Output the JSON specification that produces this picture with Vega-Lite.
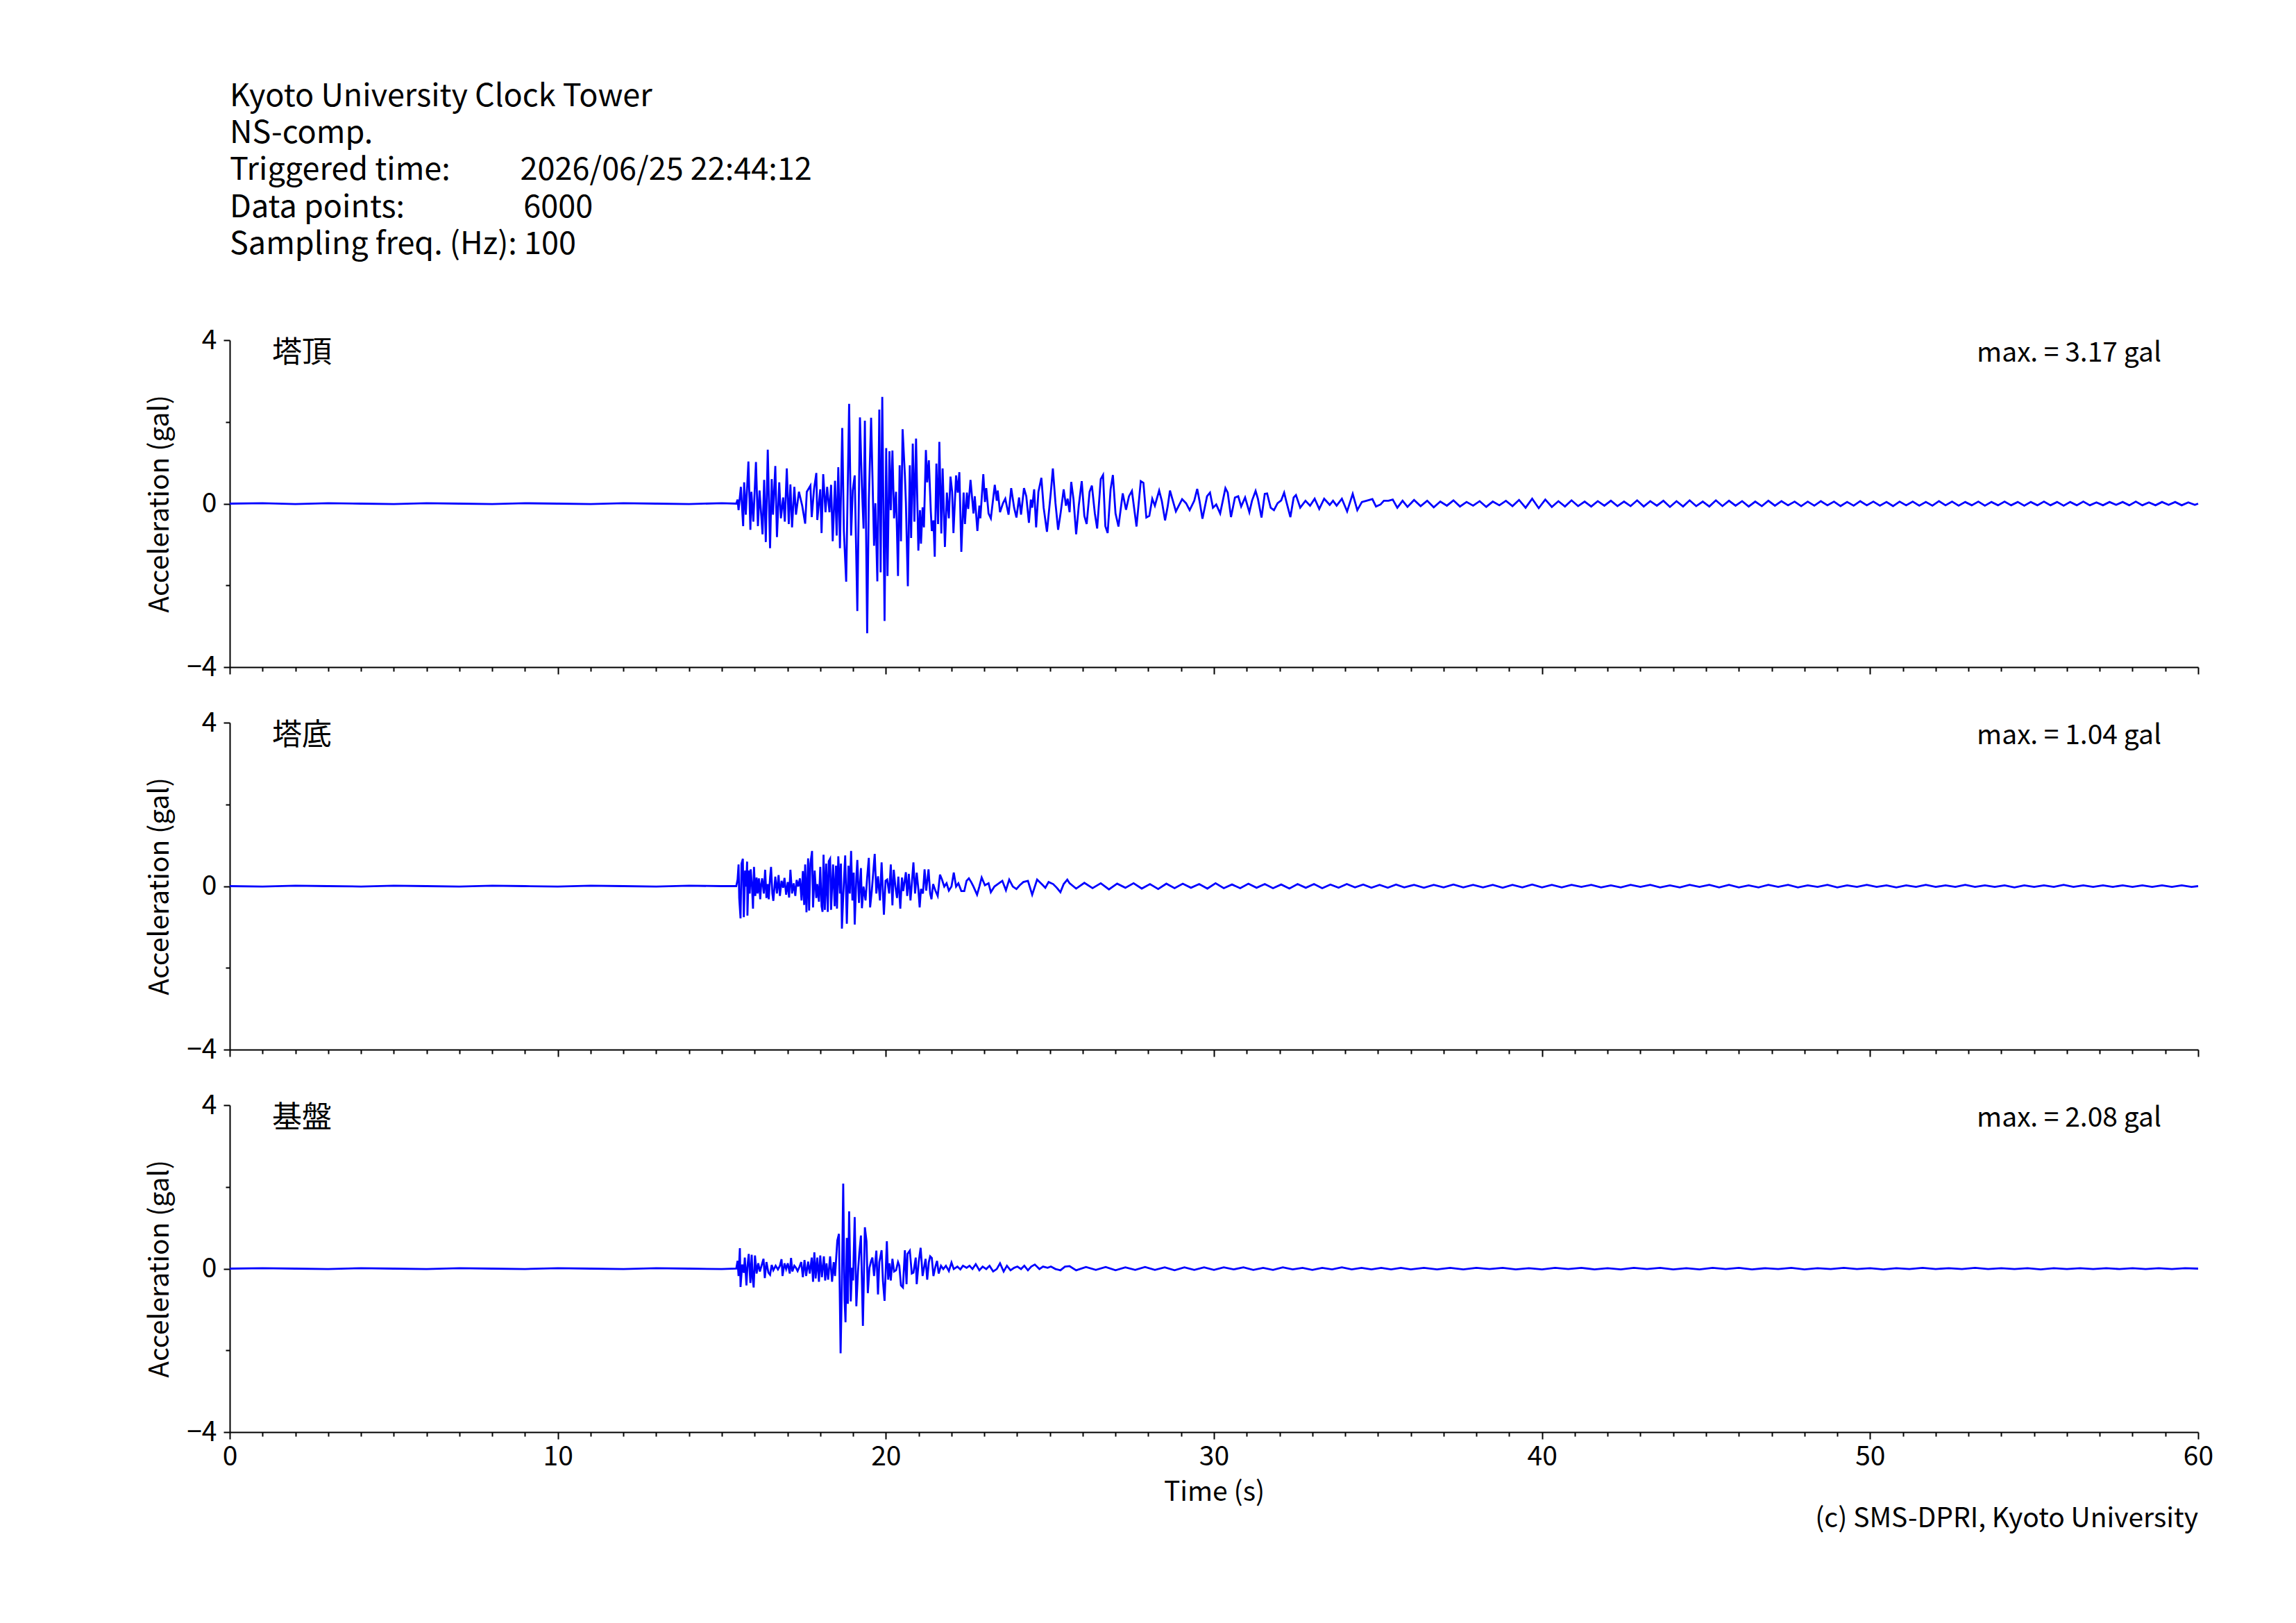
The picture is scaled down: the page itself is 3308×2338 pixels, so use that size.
{
  "$schema": "https://vega.github.io/schema/vega-lite/v6.json",
  "background": "white",
  "padding": {"left": 211, "top": 116, "right": 20, "bottom": 20},
  "config": {
    "font": "Noto Sans CJK JP",
    "view": {"stroke": null},
    "axis": {
      "grid": false,
      "domainColor": "black",
      "domainWidth": 2,
      "tickColor": "black",
      "tickWidth": 2,
      "labelColor": "black",
      "labelFontSize": 39,
      "labelFont": "Noto Sans CJK JP",
      "titleColor": "black",
      "titleFontSize": 39,
      "titleFont": "Noto Sans CJK JP",
      "titleFontWeight": "normal",
      "labelOverlap": false,
      "labelFlush": false
    },
    "line": {"color": "#0000ff", "strokeWidth": 2.8},
    "text": {"color": "black", "fontSize": 39, "font": "Noto Sans CJK JP"}
  },
  "title": {
    "text": [
      "Kyoto University Clock Tower",
      "NS-comp.",
      "Triggered time:\u00a0\u00a0\u00a0\u00a0\u00a0\u00a0\u00a0\u00a0\u00a0 2026/06/25 22:44:12",
      "Data points:\u00a0\u00a0\u00a0\u00a0\u00a0\u00a0\u00a0\u00a0\u00a0\u00a0\u00a0\u00a0\u00a0\u00a0\u00a0\u00a0 6000",
      "Sampling freq. (Hz): 100"
    ],
    "anchor": "start",
    "frame": "group",
    "fontSize": 45,
    "fontWeight": "normal",
    "font": "Noto Sans CJK JP",
    "color": "black",
    "lineHeight": 53.3,
    "offset": 96
  },
  "datasets": {
    "info": [
      {"panel": "tower_top", "name": "塔頂", "max": "max. = 3.17 gal"},
      {"panel": "tower_base", "name": "塔底", "max": "max. = 1.04 gal"},
      {"panel": "bedrock", "name": "基盤", "max": "max. = 2.08 gal"}
    ],
    "tower_top": [
      {"t":0,"a":0},{"t":1,"a":0.01},{"t":2,"a":-0.01},{"t":3,"a":0.01},{"t":4,"a":0},{"t":5,"a":-0.01},{"t":6,"a":0.01},{"t":7,"a":0},{"t":8,"a":-0.01},{"t":9,"a":0.01},{"t":10,"a":0},{"t":11,"a":-0.01},{"t":12,"a":0.01},{"t":13,"a":0},{"t":14,"a":-0.01},{"t":15,"a":0.01},{"t":15.44,"a":0},
      {"t":15.48,"a":0.10},{"t":15.51,"a":-0.16},{"t":15.58,"a":0.41},{"t":15.65,"a":-0.55},{"t":15.68,"a":0.52},{"t":15.73,"a":-0.27},{"t":15.81,"a":1.03},{"t":15.87,"a":-0.64},{"t":15.90,"a":0.29},{"t":15.96,"a":-0.44},{"t":16.04,"a":1.02},{"t":16.10,"a":-0.55},{"t":16.15,"a":0.32},{"t":16.24,"a":-0.75},{"t":16.29,"a":0.58},{"t":16.34,"a":-0.94},{"t":16.40,"a":1.32},{"t":16.47,"a":-1.09},{"t":16.52,"a":0.60},{"t":16.56,"a":-0.27},{"t":16.63,"a":0.92},{"t":16.68,"a":-0.82},{"t":16.75,"a":0.52},{"t":16.80,"a":-0.36},{"t":16.87,"a":0.15},{"t":16.92,"a":-0.44},{"t":16.98,"a":0.86},{"t":17.04,"a":-0.50},{"t":17.09,"a":0.47},{"t":17.14,"a":-0.58},{"t":17.21,"a":0.41},{"t":17.26,"a":-0.27},{"t":17.35,"a":0.29},{"t":17.45,"a":-0.05},{"t":17.54,"a":-0.49},{"t":17.59,"a":0.29},{"t":17.70,"a":0.44},{"t":17.74,"a":-0.33},{"t":17.81,"a":0.35},{"t":17.88,"a":0.75},{"t":17.91,"a":-0.40},{"t":18.00,"a":0.35},{"t":18.04,"a":-0.72},{"t":18.09,"a":0.72},{"t":18.16,"a":-0.21},{"t":18.21,"a":0.41},{"t":18.28,"a":-0.21},{"t":18.33,"a":0.46},{"t":18.38,"a":-0.92},{"t":18.45,"a":0.56},{"t":18.50,"a":-0.78},{"t":18.55,"a":0.89},{"t":18.60,"a":-1.09},{"t":18.67,"a":1.85},{"t":18.72,"a":-0.67},{"t":18.79,"a":-1.91},{"t":18.88,"a":2.44},{"t":18.94,"a":-0.78},{"t":18.99,"a":0.32},{"t":19.05,"a":0.69},{"t":19.13,"a":-2.63},{"t":19.21,"a":2.11},{"t":19.27,"a":0.41},{"t":19.32,"a":-0.61},{"t":19.36,"a":2.03},{"t":19.43,"a":-3.17},{"t":19.48,"a":0.07},{"t":19.55,"a":2.10},{"t":19.64,"a":-1.03},{"t":19.68,"a":0.01},{"t":19.74,"a":-1.90},{"t":19.80,"a":2.30},{"t":19.84,"a":-1.68},{"t":19.89,"a":2.61},{"t":19.96,"a":-2.87},{"t":20.01,"a":1.36},{"t":20.05,"a":-1.77},{"t":20.11,"a":1.28},{"t":20.15,"a":-0.16},{"t":20.20,"a":1.30},{"t":20.25,"a":-0.36},{"t":20.31,"a":0.29},{"t":20.37,"a":-1.77},{"t":20.42,"a":0.94},{"t":20.46,"a":-0.92},{"t":20.51,"a":1.82},{"t":20.58,"a":0.69},{"t":20.61,"a":0.04},{"t":20.67,"a":-2.02},{"t":20.73,"a":0.94},{"t":20.77,"a":-0.84},{"t":20.82,"a":1.47},{"t":20.87,"a":-0.44},{"t":20.92,"a":1.59},{"t":20.99,"a":-1.15},{"t":21.04,"a":-0.16},{"t":21.07,"a":-0.98},{"t":21.12,"a":-0.09},{"t":21.16,"a":-0.58},{"t":21.22,"a":1.31},{"t":21.26,"a":0.52},{"t":21.31,"a":1.06},{"t":21.37,"a":-0.19},{"t":21.40,"a":-0.67},{"t":21.45,"a":-0.41},{"t":21.49,"a":-1.30},{"t":21.54,"a":0.98},{"t":21.59,"a":-0.50},{"t":21.63,"a":1.51},{"t":21.69,"a":-0.73},{"t":21.73,"a":0.86},{"t":21.80,"a":-1.06},{"t":21.86,"a":0.27},{"t":21.92,"a":-0.36},{"t":21.97,"a":0.66},{"t":22.02,"a":0.29},{"t":22.06,"a":-0.72},{"t":22.14,"a":0.69},{"t":22.19,"a":0.27},{"t":22.24,"a":0.77},{"t":22.30,"a":-1.18},{"t":22.37,"a":0.27},{"t":22.41,"a":-0.50},{"t":22.47,"a":0.27},{"t":22.51,"a":-0.13},{"t":22.58,"a":0.58},{"t":22.67,"a":-0.24},{"t":22.71,"a":0.18},{"t":22.79,"a":-0.67},{"t":22.85,"a":-0.05},{"t":22.88,"a":-0.36},{"t":22.97,"a":0.72},{"t":23.02,"a":0.04},{"t":23.06,"a":0.38},{"t":23.13,"a":-0.24},{"t":23.20,"a":-0.36},{"t":23.32,"a":0.46},{"t":23.38,"a":0.07},{"t":23.41,"a":0.32},{"t":23.48,"a":-0.21},{"t":23.57,"a":0.01},{"t":23.64,"a":0.12},{"t":23.74,"a":-0.27},{"t":23.82,"a":0.38},{"t":23.91,"a":-0.10},{"t":23.98,"a":-0.34},{"t":24.06,"a":0.15},{"t":24.12,"a":-0.27},{"t":24.21,"a":0.38},{"t":24.28,"a":0.18},{"t":24.36,"a":-0.47},{"t":24.42,"a":0.10},{"t":24.46,"a":-0.10},{"t":24.52,"a":0.35},{"t":24.58,"a":-0.58},{"t":24.65,"a":0.29},{"t":24.74,"a":0.63},{"t":24.81,"a":-0.10},{"t":24.91,"a":-0.69},{"t":25.03,"a":0.29},{"t":25.09,"a":0.86},{"t":25.17,"a":0.01},{"t":25.25,"a":-0.64},{"t":25.33,"a":-0.21},{"t":25.42,"a":0.35},{"t":25.49,"a":-0.05},{"t":25.54,"a":0.12},{"t":25.60,"a":-0.21},
      {"t":25.65,"a":0.53},{"t":25.72,"a":0.10},{"t":25.80,"a":-0.75},{"t":25.88,"a":-0.05},{"t":25.97,"a":0.55},{"t":26.05,"a":-0.30},{"t":26.12,"a":-0.50},{"t":26.21,"a":0.29},{"t":26.28,"a":0.44},{"t":26.37,"a":-0.24},{"t":26.44,"a":-0.61},{"t":26.55,"a":0.60},{"t":26.62,"a":0.70},{"t":26.69,"a":-0.55},{"t":26.76,"a":-0.72},{"t":26.85,"a":0.35},{"t":26.92,"a":0.70},{"t":27.00,"a":-0.24},{"t":27.09,"a":-0.56},{"t":27.22,"a":0.25},{"t":27.32,"a":-0.15},{"t":27.41,"a":0.18},{"t":27.50,"a":0.31},{"t":27.64,"a":-0.56},{"t":27.77,"a":0.55},{"t":27.85,"a":0.51},{"t":27.94,"a":-0.34},{"t":28.03,"a":-0.30},{"t":28.12,"a":0.12},{"t":28.20,"a":-0.05},{"t":28.33,"a":0.32},{"t":28.41,"a":0.07},{"t":28.51,"a":-0.41},{"t":28.59,"a":-0.07},{"t":28.66,"a":0.32},{"t":28.73,"a":0.12},{"t":28.84,"a":-0.19},{"t":29.03,"a":0.11},{"t":29.15,"a":0.01},{"t":29.26,"a":-0.16},{"t":29.40,"a":0.07},{"t":29.49,"a":0.36},{"t":29.56,"a":0.07},{"t":29.65,"a":-0.37},{"t":29.79,"a":0.18},{"t":29.88,"a":0.27},{"t":29.97,"a":-0.10},{"t":30.07,"a":-0.02},{"t":30.19,"a":-0.24},{"t":30.35,"a":0.38},{"t":30.42,"a":0.27},{"t":30.52,"a":-0.33},{"t":30.64,"a":0.15},{"t":30.74,"a":0.18},{"t":30.83,"a":-0.07},{"t":30.95,"a":0.15},{"t":31.08,"a":-0.21},{"t":31.16,"a":0.07},{"t":31.27,"a":0.31},{"t":31.34,"a":0.12},{"t":31.45,"a":-0.34},{"t":31.55,"a":0.24},{"t":31.62,"a":0.25},{"t":31.73,"a":-0.10},{"t":31.83,"a":-0.16},{"t":31.94,"a":0.01},{"t":32.05,"a":0.08},{"t":32.14,"a":0.27},{"t":32.22,"a":0.01},{"t":32.33,"a":-0.33},{"t":32.43,"a":0.15},{"t":32.50,"a":0.21},{"t":32.63,"a":-0.10},{"t":32.79,"a":0.07},{"t":32.93,"a":-0.05},{"t":33.07,"a":0.12},{"t":33.21,"a":-0.13},{"t":33.36,"a":0.12},{"t":33.53,"a":-0.03},{"t":33.63,"a":0.07},{"t":33.74,"a":-0.05},{"t":33.90,"a":0.12},{"t":34.06,"a":-0.19},{"t":34.23,"a":0.24},{"t":34.37,"a":-0.16},{"t":34.51,"a":0.04},{"t":34.65,"a":0.07},{"t":34.83,"a":0.11},{"t":34.94,"a":-0.07},{"t":35.08,"a":-0.02},{"t":35.18,"a":0.07},{"t":35.32,"a":0.07},{"t":35.45,"a":0.10},{"t":35.59,"a":-0.10},{"t":35.75,"a":0.07},
      {"t":35.9,"a":-0.08},{"t":36.1,"a":0.09},{"t":36.3,"a":-0.06},{"t":36.5,"a":0.07},{"t":36.7,"a":-0.09},{"t":36.9,"a":0.05},{"t":37.1,"a":-0.05},{"t":37.3,"a":0.08},{"t":37.5,"a":-0.07},{"t":37.7,"a":0.04},{"t":37.9,"a":-0.05},{"t":38.1,"a":0.06},{"t":38.3,"a":-0.08},{"t":38.5,"a":0.05},{"t":38.7,"a":-0.04},{"t":38.9,"a":0.07},{"t":39.1,"a":-0.06},{"t":39.3,"a":0.09},{"t":39.5,"a":-0.10},{"t":39.7,"a":0.12},{"t":39.9,"a":-0.11},{"t":40.1,"a":0.10},{"t":40.3,"a":-0.08},{"t":40.5,"a":0.06},{"t":40.7,"a":-0.07},{"t":40.9,"a":0.08},{"t":41.1,"a":-0.06},{"t":41.3,"a":0.05},{"t":41.5,"a":-0.07},{"t":41.7,"a":0.06},{"t":41.9,"a":-0.05},{"t":42.1,"a":0.07},{"t":42.3,"a":-0.06},{"t":42.5,"a":0.05},{"t":42.7,"a":-0.06},{"t":42.9,"a":0.08},{"t":43.1,"a":-0.07},{"t":43.3,"a":0.06},{"t":43.5,"a":-0.05},{"t":43.7,"a":0.07},{"t":43.9,"a":-0.08},{"t":44.1,"a":0.06},{"t":44.3,"a":-0.07},{"t":44.5,"a":0.08},{"t":44.7,"a":-0.06},{"t":44.9,"a":0.05},{"t":45.1,"a":-0.07},{"t":45.3,"a":0.08},{"t":45.5,"a":-0.06},{"t":45.7,"a":0.07},{"t":45.9,"a":-0.05},{"t":46.1,"a":0.06},{"t":46.3,"a":-0.07},{"t":46.5,"a":0.05},{"t":46.7,"a":-0.06},{"t":46.9,"a":0.07},{"t":47.1,"a":-0.05},{"t":47.3,"a":0.06},{"t":47.5,"a":-0.04},{"t":47.7,"a":0.05},{"t":47.9,"a":-0.06},{"t":48.1,"a":0.05},{"t":48.3,"a":-0.05},{"t":48.5,"a":0.06},{"t":48.7,"a":-0.04},{"t":48.9,"a":0.05},{"t":49.1,"a":-0.06},{"t":49.3,"a":0.04},{"t":49.5,"a":-0.05},{"t":49.7,"a":0.06},{"t":49.9,"a":-0.04},{"t":50.1,"a":0.05},{"t":50.3,"a":-0.05},{"t":50.5,"a":0.04},{"t":50.7,"a":-0.06},{"t":50.9,"a":0.05},{"t":51.1,"a":-0.04},{"t":51.3,"a":0.05},{"t":51.5,"a":-0.05},{"t":51.7,"a":0.04},{"t":51.9,"a":-0.05},{"t":52.1,"a":0.06},{"t":52.3,"a":-0.04},{"t":52.5,"a":0.05},{"t":52.7,"a":-0.05},{"t":52.9,"a":0.04},{"t":53.1,"a":-0.04},{"t":53.3,"a":0.05},{"t":53.5,"a":-0.05},{"t":53.7,"a":0.04},{"t":53.9,"a":-0.04},{"t":54.1,"a":0.05},{"t":54.3,"a":-0.04},{"t":54.5,"a":0.04},{"t":54.7,"a":-0.05},{"t":54.9,"a":0.04},{"t":55.1,"a":-0.04},{"t":55.3,"a":0.05},{"t":55.5,"a":-0.04},{"t":55.7,"a":0.04},{"t":55.9,"a":-0.05},{"t":56.1,"a":0.04},{"t":56.3,"a":-0.04},{"t":56.5,"a":0.05},{"t":56.7,"a":-0.04},{"t":56.9,"a":0.03},{"t":57.1,"a":-0.04},{"t":57.3,"a":0.04},{"t":57.5,"a":-0.03},{"t":57.7,"a":0.04},{"t":57.9,"a":-0.04},{"t":58.1,"a":0.05},{"t":58.3,"a":-0.04},{"t":58.5,"a":0.03},{"t":58.7,"a":-0.04},{"t":58.9,"a":0.04},{"t":59.1,"a":-0.03},{"t":59.3,"a":0.04},{"t":59.5,"a":-0.04},{"t":59.7,"a":0.03},{"t":59.9,"a":-0.03},{"t":60,"a":0}
    ],
    "tower_base": [
      {"t":0,"a":0},{"t":1,"a":-0.01},{"t":2,"a":0.01},{"t":3,"a":0},{"t":4,"a":-0.01},{"t":5,"a":0.01},{"t":6,"a":0},{"t":7,"a":-0.01},{"t":8,"a":0.01},{"t":9,"a":0},{"t":10,"a":-0.01},{"t":11,"a":0.01},{"t":12,"a":0},{"t":13,"a":-0.01},{"t":14,"a":0.01},{"t":15,"a":0},{"t":15.44,"a":0},
      {"t":15.48,"a":0.16},{"t":15.51,"a":0.53},{"t":15.53,"a":-0.29},{"t":15.57,"a":-0.79},{"t":15.60,"a":0.55},{"t":15.64,"a":0.67},{"t":15.67,"a":-0.76},{"t":15.71,"a":0.38},{"t":15.74,"a":-0.01},{"t":15.77,"a":0.60},{"t":15.78,"a":-0.72},{"t":15.82,"a":0.38},{"t":15.85,"a":-0.18},{"t":15.88,"a":0.41},{"t":15.92,"a":-0.01},{"t":15.95,"a":-0.55},{"t":15.98,"a":0.47},{"t":16.02,"a":-0.24},{"t":16.06,"a":0.21},{"t":16.09,"a":-0.18},{"t":16.13,"a":0.19},{"t":16.17,"a":-0.32},{"t":16.20,"a":0.05},{"t":16.23,"a":0.19},{"t":16.28,"a":-0.18},{"t":16.32,"a":0.40},{"t":16.36,"a":-0.29},{"t":16.40,"a":0.05},{"t":16.43,"a":-0.32},{"t":16.47,"a":0.21},{"t":16.50,"a":0.47},{"t":16.54,"a":-0.18},{"t":16.57,"a":-0.36},{"t":16.63,"a":0.23},{"t":16.68,"a":-0.18},{"t":16.73,"a":0.27},{"t":16.77,"a":-0.24},{"t":16.82,"a":0.13},{"t":16.87,"a":-0.04},{"t":16.91,"a":0.20},{"t":16.96,"a":-0.21},{"t":17.01,"a":0.10},{"t":17.05,"a":-0.28},{"t":17.09,"a":0.40},{"t":17.14,"a":-0.18},{"t":17.19,"a":0.07},{"t":17.24,"a":-0.24},{"t":17.28,"a":0.15},{"t":17.33,"a":-0.01},{"t":17.38,"a":0.19},{"t":17.43,"a":-0.35},{"t":17.47,"a":0.37},{"t":17.51,"a":-0.46},{"t":17.54,"a":0.53},{"t":17.58,"a":-0.64},{"t":17.63,"a":0.68},{"t":17.66,"a":-0.60},{"t":17.70,"a":0.55},{"t":17.75,"a":0.86},{"t":17.78,"a":-0.52},{"t":17.83,"a":0.38},{"t":17.88,"a":-0.29},{"t":17.91,"a":0.05},{"t":17.96,"a":-0.38},{"t":18.00,"a":0.47},{"t":18.04,"a":-0.49},{"t":18.07,"a":-0.63},{"t":18.10,"a":0.77},{"t":18.14,"a":-0.58},{"t":18.18,"a":0.55},{"t":18.23,"a":-0.63},{"t":18.26,"a":0.61},{"t":18.30,"a":0.67},{"t":18.33,"a":-0.58},{"t":18.39,"a":0.53},{"t":18.44,"a":-0.49},{"t":18.48,"a":0.50},{"t":18.51,"a":-0.55},{"t":18.55,"a":0.73},{"t":18.60,"a":-0.18},{"t":18.63,"a":0.55},{"t":18.66,"a":-1.04},{"t":18.70,"a":-0.24},{"t":18.76,"a":0.75},{"t":18.81,"a":-0.92},{"t":18.86,"a":0.50},{"t":18.90,"a":-0.18},{"t":18.94,"a":0.86},{"t":18.98,"a":-0.35},{"t":19.02,"a":0.33},{"t":19.05,"a":-0.94},{"t":19.10,"a":0.21},{"t":19.13,"a":0.64},{"t":19.18,"a":-0.41},{"t":19.24,"a":0.44},{"t":19.27,"a":-0.54},{"t":19.32,"a":-0.01},{"t":19.38,"a":-0.35},{"t":19.43,"a":0.21},{"t":19.48,"a":0.69},{"t":19.52,"a":-0.52},{"t":19.57,"a":-0.12},{"t":19.62,"a":0.38},{"t":19.66,"a":0.79},{"t":19.71,"a":-0.18},{"t":19.76,"a":0.24},{"t":19.82,"a":-0.35},{"t":19.87,"a":0.58},{"t":19.94,"a":-0.70},{"t":19.99,"a":0.13},{"t":20.04,"a":0.16},{"t":20.10,"a":-0.18},{"t":20.15,"a":0.53},{"t":20.20,"a":-0.47},{"t":20.24,"a":0.40},{"t":20.29,"a":-0.01},{"t":20.34,"a":-0.29},{"t":20.38,"a":0.23},{"t":20.44,"a":-0.55},{"t":20.49,"a":0.21},{"t":20.53,"a":-0.12},{"t":20.61,"a":0.34},{"t":20.65,"a":-0.24},{"t":20.70,"a":0.30},{"t":20.75,"a":-0.35},{"t":20.79,"a":0.05},{"t":20.84,"a":0.58},{"t":20.89,"a":-0.18},{"t":20.94,"a":0.33},{"t":20.99,"a":-0.07},{"t":21.03,"a":-0.52},{"t":21.07,"a":-0.07},{"t":21.13,"a":-0.18},{"t":21.18,"a":0.41},{"t":21.23,"a":-0.11},{"t":21.30,"a":0.41},{"t":21.35,"a":-0.18},{"t":21.39,"a":-0.32},{"t":21.44,"a":0.05},{"t":21.51,"a":-0.11},{"t":21.58,"a":-0.24},{"t":21.65,"a":0.28},{"t":21.71,"a":0.16},{"t":21.78,"a":-0.01},{"t":21.85,"a":0.07},{"t":21.92,"a":-0.11},{"t":22.00,"a":-0.01},{"t":22.07,"a":0.33},{"t":22.14,"a":-0.01},{"t":22.21,"a":0.07},{"t":22.30,"a":-0.12},{"t":22.39,"a":-0.12},{"t":22.46,"a":0.13},{"t":22.53,"a":0.19},{"t":22.60,"a":0.10},{"t":22.67,"a":-0.01},{"t":22.78,"a":-0.21},{"t":22.85,"a":-0.01},{"t":22.92,"a":0.21},{"t":23.02,"a":0.02},{"t":23.13,"a":0.07},{"t":23.20,"a":-0.15},{"t":23.31,"a":-0.01},{"t":23.41,"a":0.05},{"t":23.55,"a":0.13},{"t":23.66,"a":-0.10},{"t":23.76,"a":0.16},{"t":23.87,"a":-0.01},{"t":23.98,"a":-0.07},{"t":24.08,"a":0.02},{"t":24.19,"a":0.10},{"t":24.33,"a":0.13},{"t":24.46,"a":-0.21},{"t":24.61,"a":0.16},{"t":24.75,"a":0.05},{"t":24.86,"a":-0.04},{"t":24.96,"a":0.10},{"t":25.10,"a":0.05},{"t":25.21,"a":-0.04},{"t":25.32,"a":-0.15},{"t":25.42,"a":0.05},{"t":25.53,"a":0.16},{"t":25.60,"a":0.07},
      {"t":25.8,"a":-0.06},{"t":26.05,"a":0.08},{"t":26.3,"a":-0.05},{"t":26.55,"a":0.07},{"t":26.8,"a":-0.08},{"t":27.05,"a":0.06},{"t":27.3,"a":-0.04},{"t":27.55,"a":0.07},{"t":27.8,"a":-0.06},{"t":28.05,"a":0.05},{"t":28.3,"a":-0.07},{"t":28.55,"a":0.06},{"t":28.8,"a":-0.05},{"t":29.05,"a":0.06},{"t":29.3,"a":-0.04},{"t":29.55,"a":0.05},{"t":29.8,"a":-0.06},{"t":30.05,"a":0.07},{"t":30.3,"a":-0.05},{"t":30.55,"a":0.04},{"t":30.8,"a":-0.05},{"t":31.05,"a":0.06},{"t":31.3,"a":-0.04},{"t":31.55,"a":0.05},{"t":31.8,"a":-0.05},{"t":32.05,"a":0.04},{"t":32.3,"a":-0.06},{"t":32.55,"a":0.05},{"t":32.8,"a":-0.04},{"t":33.05,"a":0.05},{"t":33.3,"a":-0.05},{"t":33.55,"a":0.04},{"t":33.8,"a":-0.04},{"t":34.05,"a":0.05},{"t":34.3,"a":-0.03},{"t":34.55,"a":0.04},{"t":34.8,"a":-0.04},{"t":35.05,"a":0.03},{"t":35.3,"a":-0.04},{"t":35.55,"a":0.04},{"t":35.8,"a":-0.03},{"t":36.1,"a":0.03},{"t":36.4,"a":-0.04},{"t":36.7,"a":0.03},{"t":37.0,"a":-0.03},{"t":37.3,"a":0.04},{"t":37.6,"a":-0.03},{"t":37.9,"a":0.03},{"t":38.2,"a":-0.03},{"t":38.5,"a":0.03},{"t":38.8,"a":-0.04},{"t":39.1,"a":0.03},{"t":39.4,"a":-0.03},{"t":39.7,"a":0.04},{"t":40.0,"a":-0.03},{"t":40.3,"a":0.03},{"t":40.6,"a":-0.03},{"t":40.9,"a":0.03},{"t":41.2,"a":-0.02},{"t":41.5,"a":0.03},{"t":41.8,"a":-0.03},{"t":42.1,"a":0.02},{"t":42.4,"a":-0.03},{"t":42.7,"a":0.03},{"t":43.0,"a":-0.02},{"t":43.3,"a":0.03},{"t":43.6,"a":-0.03},{"t":43.9,"a":0.02},{"t":44.2,"a":-0.03},{"t":44.5,"a":0.03},{"t":44.8,"a":-0.02},{"t":45.1,"a":0.03},{"t":45.4,"a":-0.03},{"t":45.7,"a":0.03},{"t":46.0,"a":-0.03},{"t":46.3,"a":0.02},{"t":46.6,"a":-0.03},{"t":46.9,"a":0.03},{"t":47.2,"a":-0.02},{"t":47.5,"a":0.03},{"t":47.8,"a":-0.03},{"t":48.1,"a":0.02},{"t":48.4,"a":-0.02},{"t":48.7,"a":0.03},{"t":49.0,"a":-0.03},{"t":49.3,"a":0.02},{"t":49.6,"a":-0.02},{"t":49.9,"a":0.03},{"t":50.2,"a":-0.02},{"t":50.5,"a":0.02},{"t":50.8,"a":-0.03},{"t":51.1,"a":0.02},{"t":51.4,"a":-0.02},{"t":51.7,"a":0.03},{"t":52.0,"a":-0.02},{"t":52.3,"a":0.02},{"t":52.6,"a":-0.02},{"t":52.9,"a":0.03},{"t":53.2,"a":-0.02},{"t":53.5,"a":0.02},{"t":53.8,"a":-0.02},{"t":54.1,"a":0.02},{"t":54.4,"a":-0.03},{"t":54.7,"a":0.02},{"t":55.0,"a":-0.02},{"t":55.3,"a":0.02},{"t":55.6,"a":-0.02},{"t":55.9,"a":0.03},{"t":56.2,"a":-0.02},{"t":56.5,"a":0.02},{"t":56.8,"a":-0.02},{"t":57.1,"a":0.02},{"t":57.4,"a":-0.02},{"t":57.7,"a":0.02},{"t":58.0,"a":-0.02},{"t":58.3,"a":0.02},{"t":58.6,"a":-0.02},{"t":58.9,"a":0.02},{"t":59.2,"a":-0.02},{"t":59.5,"a":0.02},{"t":59.8,"a":-0.02},{"t":60,"a":0}
    ],
    "bedrock": [
      {"t":0,"a":0},{"t":1,"a":0.01},{"t":2,"a":0},{"t":3,"a":-0.01},{"t":4,"a":0.01},{"t":5,"a":0},{"t":6,"a":-0.01},{"t":7,"a":0.01},{"t":8,"a":0},{"t":9,"a":-0.01},{"t":10,"a":0.01},{"t":11,"a":0},{"t":12,"a":-0.01},{"t":13,"a":0.01},{"t":14,"a":0},{"t":15,"a":-0.01},{"t":15.44,"a":0},
      {"t":15.48,"a":0.19},{"t":15.51,"a":-0.18},{"t":15.55,"a":0.50},{"t":15.57,"a":-0.45},{"t":15.62,"a":0.10},{"t":15.67,"a":-0.10},{"t":15.70,"a":0.27},{"t":15.75,"a":-0.41},{"t":15.78,"a":0.05},{"t":15.82,"a":0.36},{"t":15.87,"a":-0.35},{"t":15.91,"a":0.34},{"t":15.94,"a":-0.24},{"t":15.97,"a":-0.46},{"t":16.01,"a":0.32},{"t":16.06,"a":-0.12},{"t":16.11,"a":0.13},{"t":16.16,"a":-0.07},{"t":16.22,"a":0.10},{"t":16.27,"a":0.24},{"t":16.31,"a":-0.23},{"t":16.36,"a":0.16},{"t":16.42,"a":-0.10},{"t":16.47,"a":-0.15},{"t":16.52,"a":0.09},{"t":16.57,"a":-0.04},{"t":16.64,"a":0.07},{"t":16.71,"a":-0.02},{"t":16.77,"a":0.07},{"t":16.82,"a":0.23},{"t":16.85,"a":-0.18},{"t":16.91,"a":0.13},{"t":16.96,"a":-0.01},{"t":17.01,"a":0.13},{"t":17.07,"a":-0.12},{"t":17.11,"a":0.26},{"t":17.15,"a":-0.07},{"t":17.21,"a":0.07},{"t":17.26,"a":0.02},{"t":17.31,"a":-0.06},{"t":17.37,"a":0.05},{"t":17.42,"a":0.16},{"t":17.47,"a":-0.21},{"t":17.52,"a":0.21},{"t":17.57,"a":-0.18},{"t":17.63,"a":0.17},{"t":17.68,"a":-0.12},{"t":17.74,"a":0.27},{"t":17.78,"a":-0.32},{"t":17.82,"a":0.40},{"t":17.86,"a":-0.24},{"t":17.91,"a":0.27},{"t":17.96,"a":-0.32},{"t":18.00,"a":0.32},{"t":18.05,"a":-0.21},{"t":18.11,"a":0.30},{"t":18.15,"a":-0.29},{"t":18.19,"a":0.13},{"t":18.24,"a":-0.27},{"t":18.30,"a":0.30},{"t":18.36,"a":-0.32},{"t":18.41,"a":0.16},{"t":18.45,"a":-0.18},{"t":18.48,"a":0.19},{"t":18.52,"a":0.69},{"t":18.57,"a":0.85},{"t":18.62,"a":-2.07},{"t":18.66,"a":-0.35},{"t":18.70,"a":2.08},{"t":18.74,"a":-0.75},{"t":18.77,"a":-1.31},{"t":18.81,"a":0.75},{"t":18.84,"a":-0.86},{"t":18.88,"a":1.40},{"t":18.93,"a":-0.80},{"t":18.97,"a":0.02},{"t":19.00,"a":-0.29},{"t":19.05,"a":1.26},{"t":19.10,"a":-0.92},{"t":19.15,"a":-0.07},{"t":19.19,"a":0.38},{"t":19.24,"a":0.81},{"t":19.30,"a":-1.40},{"t":19.36,"a":1.01},{"t":19.41,"a":0.67},{"t":19.45,"a":-0.60},{"t":19.50,"a":0.02},{"t":19.55,"a":0.19},{"t":19.59,"a":0.27},{"t":19.64,"a":-0.18},{"t":19.71,"a":0.44},{"t":19.76,"a":-0.63},{"t":19.80,"a":0.16},{"t":19.87,"a":0.45},{"t":19.91,"a":-0.29},{"t":19.96,"a":-0.79},{"t":20.03,"a":0.67},{"t":20.07,"a":-0.27},{"t":20.11,"a":0.13},{"t":20.15,"a":-0.29},{"t":20.20,"a":0.24},{"t":20.25,"a":-0.07},{"t":20.31,"a":-0.04},{"t":20.37,"a":0.16},{"t":20.41,"a":0.07},{"t":20.46,"a":-0.41},{"t":20.52,"a":-0.46},{"t":20.58,"a":0.45},{"t":20.63,"a":-0.38},{"t":20.66,"a":0.36},{"t":20.73,"a":0.44},{"t":20.79,"a":-0.12},{"t":20.84,"a":-0.10},{"t":20.91,"a":0.27},{"t":20.94,"a":-0.38},{"t":21.00,"a":0.16},{"t":21.06,"a":0.51},{"t":21.12,"a":-0.18},{"t":21.17,"a":0.05},{"t":21.21,"a":0.24},{"t":21.26,"a":-0.27},{"t":21.31,"a":0.16},{"t":21.35,"a":0.30},{"t":21.40,"a":0.26},{"t":21.45,"a":-0.18},{"t":21.51,"a":0.05},{"t":21.56,"a":0.19},{"t":21.61,"a":-0.12},{"t":21.68,"a":0.07},{"t":21.75,"a":-0.01},{"t":21.83,"a":0.07},{"t":21.92,"a":-0.06},{"t":22.00,"a":0.15},{"t":22.07,"a":-0.01},{"t":22.18,"a":0.05},{"t":22.27,"a":-0.02},{"t":22.35,"a":0.07},{"t":22.46,"a":0.02},{"t":22.55,"a":0.07},{"t":22.64,"a":-0.01},{"t":22.74,"a":0.11},{"t":22.85,"a":-0.04},{"t":22.95,"a":0.05},{"t":23.06,"a":-0.01},{"t":23.16,"a":0.07},{"t":23.27,"a":-0.07},{"t":23.38,"a":-0.01},{"t":23.48,"a":0.13},{"t":23.59,"a":-0.07},{"t":23.69,"a":0.07},{"t":23.80,"a":-0.04},{"t":23.91,"a":0.02},{"t":24.01,"a":0.05},{"t":24.12,"a":-0.01},{"t":24.22,"a":0.07},{"t":24.33,"a":-0.04},{"t":24.43,"a":0.05},{"t":24.54,"a":0.10},{"t":24.68,"a":-0.01},{"t":24.79,"a":0.05},{"t":24.93,"a":0.02},{"t":25.03,"a":0.05},{"t":25.17,"a":-0.01},{"t":25.32,"a":-0.04},{"t":25.46,"a":0.05},{"t":25.60,"a":0.06},
      {"t":25.8,"a":-0.04},{"t":26.1,"a":0.04},{"t":26.4,"a":-0.03},{"t":26.7,"a":0.04},{"t":27.0,"a":-0.04},{"t":27.3,"a":0.03},{"t":27.6,"a":-0.03},{"t":27.9,"a":0.04},{"t":28.2,"a":-0.03},{"t":28.5,"a":0.03},{"t":28.8,"a":-0.04},{"t":29.1,"a":0.03},{"t":29.4,"a":-0.03},{"t":29.7,"a":0.03},{"t":30.0,"a":-0.03},{"t":30.3,"a":0.03},{"t":30.6,"a":-0.02},{"t":30.9,"a":0.03},{"t":31.2,"a":-0.03},{"t":31.5,"a":0.02},{"t":31.8,"a":-0.03},{"t":32.1,"a":0.03},{"t":32.4,"a":-0.02},{"t":32.7,"a":0.02},{"t":33.0,"a":-0.03},{"t":33.3,"a":0.02},{"t":33.6,"a":-0.02},{"t":33.9,"a":0.03},{"t":34.2,"a":-0.02},{"t":34.5,"a":0.02},{"t":34.8,"a":-0.02},{"t":35.1,"a":0.02},{"t":35.4,"a":-0.02},{"t":35.7,"a":0.02},{"t":36.0,"a":-0.02},{"t":36.4,"a":0.02},{"t":36.8,"a":-0.02},{"t":37.2,"a":0.02},{"t":37.6,"a":-0.02},{"t":38.0,"a":0.02},{"t":38.4,"a":-0.01},{"t":38.8,"a":0.02},{"t":39.2,"a":-0.02},{"t":39.6,"a":0.01},{"t":40.0,"a":-0.02},{"t":40.4,"a":0.02},{"t":40.8,"a":-0.01},{"t":41.2,"a":0.02},{"t":41.6,"a":-0.02},{"t":42.0,"a":0.01},{"t":42.4,"a":-0.02},{"t":42.8,"a":0.02},{"t":43.2,"a":-0.01},{"t":43.6,"a":0.02},{"t":44.0,"a":-0.02},{"t":44.4,"a":0.01},{"t":44.8,"a":-0.02},{"t":45.2,"a":0.02},{"t":45.6,"a":-0.01},{"t":46.0,"a":0.02},{"t":46.4,"a":-0.02},{"t":46.8,"a":0.01},{"t":47.2,"a":-0.01},{"t":47.6,"a":0.02},{"t":48.0,"a":-0.02},{"t":48.4,"a":0.01},{"t":48.8,"a":-0.01},{"t":49.2,"a":0.02},{"t":49.6,"a":-0.01},{"t":50.0,"a":0.01},{"t":50.4,"a":-0.02},{"t":50.8,"a":0.01},{"t":51.2,"a":-0.01},{"t":51.6,"a":0.02},{"t":52.0,"a":-0.01},{"t":52.4,"a":0.01},{"t":52.8,"a":-0.01},{"t":53.2,"a":0.02},{"t":53.6,"a":-0.01},{"t":54.0,"a":0.01},{"t":54.4,"a":-0.01},{"t":54.8,"a":0.01},{"t":55.2,"a":-0.02},{"t":55.6,"a":0.01},{"t":56.0,"a":-0.01},{"t":56.4,"a":0.01},{"t":56.8,"a":-0.01},{"t":57.2,"a":0.01},{"t":57.6,"a":-0.01},{"t":58.0,"a":0.01},{"t":58.4,"a":-0.01},{"t":58.8,"a":0.01},{"t":59.2,"a":-0.01},{"t":59.6,"a":0.01},{"t":60,"a":0}
    ]
  },
  "spacing": 80,
  "bounds": "flush",
  "vconcat": [
    {
      "width": 2836,
      "height": 471,
      "layer": [
        {
          "data": {"name": "tower_top"},
          "mark": {"type": "line"},
          "encoding": {
            "x": {"field": "t", "type": "quantitative", "scale": {"domain": [0, 60], "nice": false},
              "axis": {"title": null, "labels": false, "values": [0,1,2,3,4,5,6,7,8,9,10,11,12,13,14,15,16,17,18,19,20,21,22,23,24,25,26,27,28,29,30,31,32,33,34,35,36,37,38,39,40,41,42,43,44,45,46,47,48,49,50,51,52,53,54,55,56,57,58,59,60],
                "tickSize": {"condition": {"test": "datum.value % 10 === 0", "value": 10}, "value": 6}}},
            "y": {"field": "a", "type": "quantitative", "scale": {"domain": [-4, 4], "nice": false},
              "axis": {"title": "Acceleration (gal)", "format": "d", "values": [-4, -2, 0, 2, 4], "labelPadding": 10, "titlePadding": 18,
                "labelExpr": "datum.value % 4 === 0 ? datum.label : ''",
                "tickSize": {"condition": {"test": "datum.value % 4 === 0", "value": 9}, "value": 6}}}
          }
        },
        {
          "data": {"name": "info"},
          "transform": [{"filter": "datum.panel === 'tower_top'"}],
          "mark": {"type": "text", "align": "left", "baseline": "middle", "fontSize": 43},
          "encoding": {"x": {"datum": 1.29}, "y": {"datum": 3.68}, "text": {"field": "name"}}
        },
        {
          "data": {"name": "info"},
          "transform": [{"filter": "datum.panel === 'tower_top'"}],
          "mark": {"type": "text", "align": "right", "baseline": "middle"},
          "encoding": {"x": {"datum": 58.88}, "y": {"datum": 3.68}, "text": {"field": "max"}}
        }
      ]
    },
    {
      "width": 2836,
      "height": 471,
      "layer": [
        {
          "data": {"name": "tower_base"},
          "mark": {"type": "line"},
          "encoding": {
            "x": {"field": "t", "type": "quantitative", "scale": {"domain": [0, 60], "nice": false},
              "axis": {"title": null, "labels": false, "values": [0,1,2,3,4,5,6,7,8,9,10,11,12,13,14,15,16,17,18,19,20,21,22,23,24,25,26,27,28,29,30,31,32,33,34,35,36,37,38,39,40,41,42,43,44,45,46,47,48,49,50,51,52,53,54,55,56,57,58,59,60],
                "tickSize": {"condition": {"test": "datum.value % 10 === 0", "value": 10}, "value": 6}}},
            "y": {"field": "a", "type": "quantitative", "scale": {"domain": [-4, 4], "nice": false},
              "axis": {"title": "Acceleration (gal)", "format": "d", "values": [-4, -2, 0, 2, 4], "labelPadding": 10, "titlePadding": 18,
                "labelExpr": "datum.value % 4 === 0 ? datum.label : ''",
                "tickSize": {"condition": {"test": "datum.value % 4 === 0", "value": 9}, "value": 6}}}
          }
        },
        {
          "data": {"name": "info"},
          "transform": [{"filter": "datum.panel === 'tower_base'"}],
          "mark": {"type": "text", "align": "left", "baseline": "middle", "fontSize": 43},
          "encoding": {"x": {"datum": 1.29}, "y": {"datum": 3.68}, "text": {"field": "name"}}
        },
        {
          "data": {"name": "info"},
          "transform": [{"filter": "datum.panel === 'tower_base'"}],
          "mark": {"type": "text", "align": "right", "baseline": "middle"},
          "encoding": {"x": {"datum": 58.88}, "y": {"datum": 3.68}, "text": {"field": "max"}}
        }
      ]
    },
    {
      "width": 2836,
      "height": 471,
      "title": {"text": "(c) SMS-DPRI, Kyoto University", "orient": "bottom", "anchor": "end", "frame": "group", "fontSize": 39, "fontWeight": "normal", "font": "Noto Sans CJK JP", "color": "black", "offset": 0},
      "layer": [
        {
          "data": {"name": "bedrock"},
          "mark": {"type": "line"},
          "encoding": {
            "x": {"field": "t", "type": "quantitative", "scale": {"domain": [0, 60], "nice": false},
              "axis": {"title": "Time (s)", "labelPadding": 6, "titlePadding": 12, "values": [0,1,2,3,4,5,6,7,8,9,10,11,12,13,14,15,16,17,18,19,20,21,22,23,24,25,26,27,28,29,30,31,32,33,34,35,36,37,38,39,40,41,42,43,44,45,46,47,48,49,50,51,52,53,54,55,56,57,58,59,60],
                "labelExpr": "datum.value % 10 === 0 ? datum.label : ''",
                "tickSize": {"condition": {"test": "datum.value % 10 === 0", "value": 10}, "value": 6}}},
            "y": {"field": "a", "type": "quantitative", "scale": {"domain": [-4, 4], "nice": false},
              "axis": {"title": "Acceleration (gal)", "format": "d", "values": [-4, -2, 0, 2, 4], "labelPadding": 10, "titlePadding": 18,
                "labelExpr": "datum.value % 4 === 0 ? datum.label : ''",
                "tickSize": {"condition": {"test": "datum.value % 4 === 0", "value": 9}, "value": 6}}}
          }
        },
        {
          "data": {"name": "info"},
          "transform": [{"filter": "datum.panel === 'bedrock'"}],
          "mark": {"type": "text", "align": "left", "baseline": "middle", "fontSize": 43},
          "encoding": {"x": {"datum": 1.29}, "y": {"datum": 3.68}, "text": {"field": "name"}}
        },
        {
          "data": {"name": "info"},
          "transform": [{"filter": "datum.panel === 'bedrock'"}],
          "mark": {"type": "text", "align": "right", "baseline": "middle"},
          "encoding": {"x": {"datum": 58.88}, "y": {"datum": 3.68}, "text": {"field": "max"}}
        }
      ]
    }
  ]
}
